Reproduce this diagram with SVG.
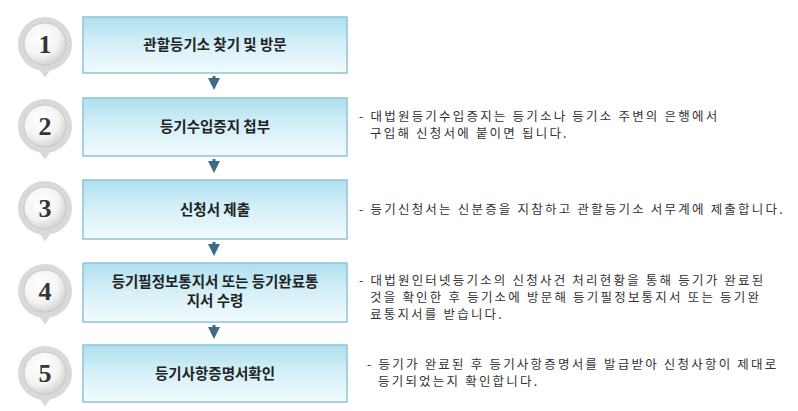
<svg xmlns="http://www.w3.org/2000/svg" width="798" height="411" viewBox="0 0 798 411">
<defs>
<linearGradient id="bg" x1="0" y1="0" x2="0" y2="1"><stop offset="0" stop-color="#aee0ef"/><stop offset="0.5" stop-color="#d6f0f8"/><stop offset="1" stop-color="#f2fbfe"/></linearGradient>
<radialGradient id="cg" cx="0.4" cy="0.35" r="0.7"><stop offset="0" stop-color="#ffffff"/><stop offset="0.6" stop-color="#f4f4f4"/><stop offset="1" stop-color="#cfcfcf"/></radialGradient>
<marker id="ah" markerWidth="4" markerHeight="4" refX="2" refY="2" orient="auto"><path d="M0,0L4,2L0,4z" fill="#3d6b84"/></marker>
</defs>
<style>
.box{fill:url(#bg);stroke:#8fc3d6;stroke-width:1.5}
.ring{fill:#d9d9d9}
.c{fill:url(#cg);stroke:#c8c8c8;stroke-width:1}
.n{font-family:"Liberation Serif",serif;font-weight:bold;font-size:26px;fill:#333;text-anchor:middle}
.t{font-family:"Noto Sans CJK KR",sans-serif;font-weight:bold;font-size:14.5px;fill:#222;text-anchor:middle}
.d{font-family:"Noto Sans CJK KR",sans-serif;font-size:12.5px;letter-spacing:2.2px;fill:#333}
.ar{stroke:#3d6b84;stroke-width:3;marker-end:url(#ah)}
</style>
<g id="connectors">
<line class="ar" x1="214" y1="76" x2="214" y2="84"/>
<line class="ar" x1="214" y1="159" x2="214" y2="167"/>
<line class="ar" x1="214" y1="242" x2="214" y2="250"/>
<line class="ar" x1="214" y1="325" x2="214" y2="333"/>
</g>
<g id="node1"><path class="ring" d="M18,44a27,27 0 1,1 54,0a27,27 0 0,1-22,26.5l-5,7l-5,-7a27,27 0 0,1-22,-26.5z"/><circle class="c" cx="45" cy="44" r="21"/><text class="n" x="45" y="53">1</text>
<rect class="box" x="83" y="17" width="264" height="56"/><text class="t" x="215" y="50">관할등기소 찾기 및 방문</text></g>
<g id="node2"><path class="ring" d="M18,126a27,27 0 1,1 54,0a27,27 0 0,1-22,26.5l-5,7l-5,-7a27,27 0 0,1-22,-26.5z"/><circle class="c" cx="45" cy="126" r="21"/><text class="n" x="45" y="135">2</text>
<rect class="box" x="83" y="98" width="264" height="58"/><text class="t" x="215" y="132">등기수입증지 첩부</text>
<text class="d" x="359" y="121">- 대법원등기수입증지는 등기소나 등기소 주변의 은행에서</text><text class="d" x="370" y="138">구입해 신청서에 붙이면 됩니다.</text></g>
<g id="node3"><path class="ring" d="M18,208a27,27 0 1,1 54,0a27,27 0 0,1-22,26.5l-5,7l-5,-7a27,27 0 0,1-22,-26.5z"/><circle class="c" cx="45" cy="208" r="21"/><text class="n" x="45" y="217">3</text>
<rect class="box" x="83" y="180" width="264" height="59"/><text class="t" x="215" y="215">신청서 제출</text>
<text class="d" x="359" y="214">- 등기신청서는 신분증을 지참하고 관할등기소 서무계에 제출합니다.</text></g>
<g id="node4"><path class="ring" d="M18,291a27,27 0 1,1 54,0a27,27 0 0,1-22,26.5l-5,7l-5,-7a27,27 0 0,1-22,-26.5z"/><circle class="c" cx="45" cy="291" r="21"/><text class="n" x="45" y="300">4</text>
<rect class="box" x="83" y="263" width="264" height="59"/><text class="t" x="215" y="287">등기필정보통지서 또는 등기완료통</text><text class="t" x="215" y="306">지서 수령</text>
<text class="d" x="359" y="285">- 대법원인터넷등기소의 신청사건 처리현황을 통해 등기가 완료된</text><text class="d" x="370" y="302">것을 확인한 후 등기소에 방문해 등기필정보통지서 또는 등기완</text><text class="d" x="370" y="319">료통지서를   받습니다.</text></g>
<g id="node5"><path class="ring" d="M18,373a27,27 0 1,1 54,0a27,27 0 0,1-22,26.5l-5,7l-5,-7a27,27 0 0,1-22,-26.5z"/><circle class="c" cx="45" cy="373" r="21"/><text class="n" x="45" y="382">5</text>
<rect class="box" x="83" y="345" width="264" height="57"/><text class="t" x="215" y="379">등기사항증명서확인</text>
<text class="d" x="367" y="369">- 등기가 완료된 후 등기사항증명서를 발급받아 신청사항이 제대로</text><text class="d" x="378" y="386">등기되었는지 확인합니다.</text></g>
</svg>
